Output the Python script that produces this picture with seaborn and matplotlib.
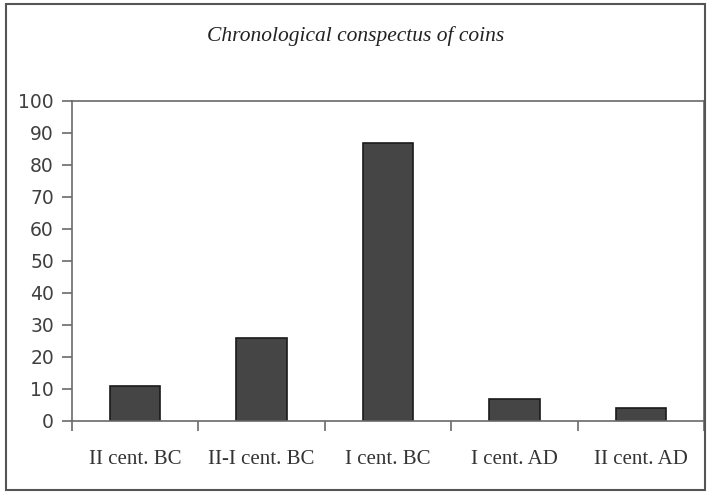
import matplotlib
matplotlib.use("Agg")
import matplotlib.pyplot as plt
import seaborn as sns
import pandas as pd
from matplotlib.patches import Rectangle

periods = ["II cent. BC", "II-I cent. BC", "I cent. BC", "I cent. AD", "II cent. AD"]
coin_counts = [11, 26, 87, 7, 4]
y_ticks = [0, 10, 20, 30, 40, 50, 60, 70, 80, 90, 100]

sns.set_theme(style="white")
plt.rcParams["font.family"] = ["DejaVu Sans"]

df = pd.DataFrame({"period": periods, "coins": coin_counts})

W, H = 709, 492
fig = plt.figure(figsize=(W / 100, H / 100), dpi=100)
ax = fig.add_axes([72 / W, 1 - 421 / H, (704 - 72) / W, (421 - 101) / H])

sns.barplot(data=df, x="period", y="coins", order=periods, width=0.4,
            color="#454545", saturation=1, edgecolor="#1a1a1a", linewidth=1.2, ax=ax)

ax.set_ylim(0, 100)
ax.set_xlim(-0.5, len(periods) - 0.5)
ax.set_yticks(y_ticks)
ax.set_yticklabels([str(v) for v in y_ticks], fontsize=13.5, color="#404040")
ax.set_xticks(range(len(periods)))
ax.set_xticklabels(periods, fontsize=15, family="Liberation Serif", color="#333333")
ax.set_xticks([i - 0.5 for i in range(len(periods) + 1)], minor=True)
ax.tick_params(axis="x", which="major", length=0, pad=21)
ax.tick_params(axis="x", which="minor", length=7, width=1.2, color="#6a6a6a", direction="out", bottom=True)
ax.tick_params(axis="y", which="major", length=7, width=1.2, color="#6a6a6a", direction="out", left=True, pad=6)
ax.set_xlabel("")
ax.set_ylabel("")
for side in ["left", "bottom", "top", "right"]:
    ax.spines[side].set_visible(True)
    ax.spines[side].set_color("#6a6a6a")
    ax.spines[side].set_linewidth(1.2)

fig.text(356 / W, 1 - 36 / H, "Chronological conspectus of coins", ha="center", va="center",
         fontsize=15.5, style="italic", family="Liberation Serif", color="#222222")

fig.patches.append(Rectangle((6 / W, 1 - 490 / H), (705 - 6) / W, (490 - 4) / H,
                             transform=fig.transFigure, fill=False, edgecolor="#555555", linewidth=1.5))

fig.savefig("out.png", dpi=100)
